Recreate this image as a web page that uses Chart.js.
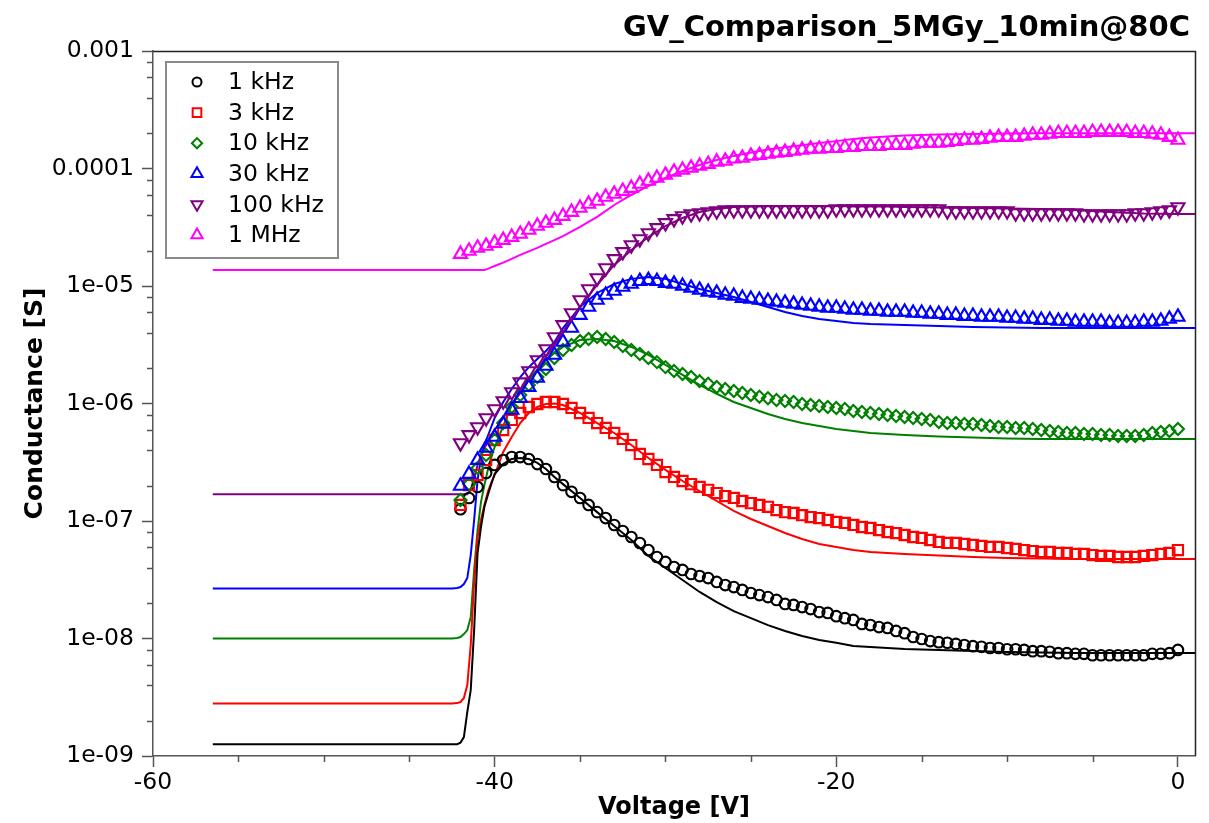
<!DOCTYPE html>
<html>
<head>
<meta charset="utf-8">
<script src="https://cdn.jsdelivr.net/npm/chart.js@4.4.1/dist/chart.umd.min.js"></script>
<style>
html, body { margin: 0; padding: 0; background: #ffffff; }
canvas { display: block; }
</style>
</head>
<body>
<canvas id="gv" width="1209" height="823"></canvas>
<script>
// ---- chart text ----
const chartTitle = 'GV_Comparison_5MGy_10min@80C';
const xAxisTitle = 'Voltage [V]';
const yAxisTitle = 'Conductance [S]';
const seriesNames = ['1 kHz', '3 kHz', '10 kHz', '30 kHz', '100 kHz', '1 MHz'];

// ---- tick labels ----
const xTicks = [-60, -40, -20, 0];
const yTicks = [1e-3, 1e-4, 1e-5, 1e-6, 1e-7, 1e-8, 1e-9];
const yTickLabels = ['0.001', '0.0001', '1e-05', '1e-06', '1e-07', '1e-08', '1e-09'];

// ---- measured gate-voltage sweep [V] ----
const measV = [-42, -41.5, -41, -40.5, -40, -39.5, -39, -38.5, -38, -37.5,
  -37, -36.5, -36, -35.5, -35, -34.5, -34, -33.5, -33, -32.5,
  -32, -31.5, -31, -30.5, -30, -29.5, -29, -28.5, -28, -27.5,
  -27, -26.5, -26, -25.5, -25, -24.5, -24, -23.5, -23, -22.5,
  -22, -21.5, -21, -20.5, -20, -19.5, -19, -18.5, -18, -17.5,
  -17, -16.5, -16, -15.5, -15, -14.5, -14, -13.5, -13, -12.5,
  -12, -11.5, -11, -10.5, -10, -9.5, -9, -8.5, -8, -7.5,
  -7, -6.5, -6, -5.5, -5, -4.5, -4, -3.5, -3, -2.5,
  -2, -1.5, -1, -0.5, 0];

// ---- measured conductance [S] ----
const meas1k = [1.26e-7, 1.57e-7, 1.95e-7, 2.56e-7, 3.0e-7, 3.3e-7, 3.5e-7, 3.5e-7, 3.37e-7, 3.05e-7,
  2.77e-7, 2.37e-7, 2.02e-7, 1.77e-7, 1.57e-7, 1.37e-7, 1.19e-7, 1.06e-7, 9.25e-8, 8.22e-8,
  7.31e-8, 6.5e-8, 5.66e-8, 4.94e-8, 4.48e-8, 4.06e-8, 3.83e-8, 3.54e-8, 3.4e-8, 3.27e-8,
  3.03e-8, 2.85e-8, 2.74e-8, 2.59e-8, 2.44e-8, 2.34e-8, 2.25e-8, 2.13e-8, 1.97e-8, 1.93e-8,
  1.85e-8, 1.78e-8, 1.68e-8, 1.65e-8, 1.55e-8, 1.49e-8, 1.44e-8, 1.33e-8, 1.30e-8, 1.25e-8,
  1.23e-8, 1.16e-8, 1.11e-8, 1.03e-8, 9.9e-9, 9.5e-9, 9.3e-9, 9.2e-9, 9.0e-9, 8.8e-9,
  8.6e-9, 8.5e-9, 8.3e-9, 8.3e-9, 8.1e-9, 8.1e-9, 8.0e-9, 7.8e-9, 7.8e-9, 7.7e-9,
  7.5e-9, 7.5e-9, 7.4e-9, 7.4e-9, 7.2e-9, 7.2e-9, 7.2e-9, 7.2e-9, 7.2e-9, 7.2e-9,
  7.2e-9, 7.4e-9, 7.4e-9, 7.5e-9, 8.0e-9];
const meas3k = [1.37e-7, 2.02e-7, 2.46e-7, 3.3e-7, 4.89e-7, 5.95e-7, 7.24e-7, 8.3e-7, 9.34e-7, 9.9e-7,
  1.03e-6, 1.03e-6, 9.9e-7, 9.16e-7, 8.3e-7, 7.53e-7, 6.82e-7, 6.19e-7, 5.61e-7, 4.99e-7,
  4.43e-7, 3.72e-7, 3.37e-7, 3.0e-7, 2.61e-7, 2.37e-7, 2.19e-7, 2.06e-7, 1.95e-7, 1.84e-7,
  1.73e-7, 1.63e-7, 1.57e-7, 1.48e-7, 1.42e-7, 1.37e-7, 1.32e-7, 1.24e-7, 1.19e-7, 1.17e-7,
  1.12e-7, 1.08e-7, 1.06e-7, 1.02e-7, 9.81e-8, 9.62e-8, 9.25e-8, 8.89e-8, 8.72e-8, 8.38e-8,
  8.06e-8, 7.9e-8, 7.6e-8, 7.31e-8, 7.17e-8, 6.89e-8, 6.63e-8, 6.5e-8, 6.5e-8, 6.37e-8,
  6.25e-8, 6.13e-8, 6.01e-8, 6.01e-8, 5.89e-8, 5.78e-8, 5.66e-8, 5.55e-8, 5.45e-8, 5.45e-8,
  5.34e-8, 5.34e-8, 5.24e-8, 5.24e-8, 5.13e-8, 5.04e-8, 5.04e-8, 4.94e-8, 4.94e-8, 4.94e-8,
  5.04e-8, 5.13e-8, 5.24e-8, 5.34e-8, 5.66e-8];
const meas10k = [1.51e-7, 2.06e-7, 2.82e-7, 3.64e-7, 4.89e-7, 6.82e-7, 9.34e-7, 1.18e-6, 1.44e-6, 1.68e-6,
  1.97e-6, 2.44e-6, 2.85e-6, 3.15e-6, 3.40e-6, 3.54e-6, 3.68e-6, 3.54e-6, 3.34e-6, 3.09e-6,
  2.85e-6, 2.64e-6, 2.44e-6, 2.25e-6, 2.04e-6, 1.89e-6, 1.78e-6, 1.68e-6, 1.55e-6, 1.47e-6,
  1.38e-6, 1.33e-6, 1.28e-6, 1.23e-6, 1.18e-6, 1.14e-6, 1.11e-6, 1.07e-6, 1.05e-6, 1.03e-6,
  9.9e-7, 9.71e-7, 9.52e-7, 9.34e-7, 9.16e-7, 8.98e-7, 8.64e-7, 8.47e-7, 8.3e-7, 8.14e-7,
  7.98e-7, 7.83e-7, 7.68e-7, 7.53e-7, 7.38e-7, 7.24e-7, 6.96e-7, 6.82e-7, 6.82e-7, 6.69e-7,
  6.69e-7, 6.56e-7, 6.43e-7, 6.31e-7, 6.31e-7, 6.19e-7, 6.19e-7, 6.07e-7, 5.95e-7, 5.84e-7,
  5.72e-7, 5.61e-7, 5.61e-7, 5.5e-7, 5.5e-7, 5.4e-7, 5.4e-7, 5.29e-7, 5.29e-7, 5.29e-7,
  5.4e-7, 5.61e-7, 5.72e-7, 5.84e-7, 6.07e-7];
const meas30k = [1.99e-7, 2.51e-7, 3.3e-7, 4.18e-7, 5.19e-7, 6.69e-7, 8.81e-7, 1.11e-6, 1.38e-6, 1.65e-6,
  2.09e-6, 2.59e-6, 3.34e-6, 4.39e-6, 5.66e-6, 6.63e-6, 7.6e-6, 8.38e-6, 9.07e-6, 9.81e-6,
  1.04e-5, 1.10e-5, 1.12e-5, 1.10e-5, 1.06e-5, 1.04e-5, 1.0e-5, 9.62e-6, 9.25e-6, 8.89e-6,
  8.72e-6, 8.38e-6, 8.22e-6, 7.9e-6, 7.75e-6, 7.6e-6, 7.45e-6, 7.31e-6, 7.17e-6, 7.03e-6,
  6.89e-6, 6.76e-6, 6.63e-6, 6.5e-6, 6.5e-6, 6.37e-6, 6.25e-6, 6.25e-6, 6.13e-6, 6.13e-6,
  6.01e-6, 6.01e-6, 6.01e-6, 5.89e-6, 5.89e-6, 5.78e-6, 5.78e-6, 5.66e-6, 5.66e-6, 5.55e-6,
  5.55e-6, 5.45e-6, 5.45e-6, 5.45e-6, 5.34e-6, 5.34e-6, 5.24e-6, 5.24e-6, 5.13e-6, 5.13e-6,
  5.04e-6, 5.04e-6, 4.94e-6, 4.94e-6, 4.94e-6, 4.94e-6, 4.84e-6, 4.84e-6, 4.84e-6, 4.84e-6,
  4.94e-6, 4.94e-6, 5.04e-6, 5.24e-6, 5.45e-6];
const meas100k = [4.61e-7, 5.4e-7, 6.31e-7, 7.53e-7, 8.98e-7, 1.05e-6, 1.25e-6, 1.52e-6, 1.89e-6, 2.34e-6,
  2.91e-6, 3.68e-6, 4.66e-6, 5.89e-6, 7.6e-6, 9.43e-6, 1.17e-5, 1.42e-5, 1.70e-5, 1.95e-5,
  2.23e-5, 2.51e-5, 2.82e-5, 3.12e-5, 3.44e-5, 3.72e-5, 3.94e-5, 4.1e-5, 4.18e-5, 4.26e-5,
  4.35e-5, 4.43e-5, 4.43e-5, 4.43e-5, 4.43e-5, 4.43e-5, 4.43e-5, 4.43e-5, 4.43e-5, 4.43e-5,
  4.43e-5, 4.43e-5, 4.43e-5, 4.43e-5, 4.52e-5, 4.52e-5, 4.52e-5, 4.52e-5, 4.52e-5, 4.52e-5,
  4.52e-5, 4.52e-5, 4.52e-5, 4.52e-5, 4.52e-5, 4.52e-5, 4.52e-5, 4.35e-5, 4.35e-5, 4.35e-5,
  4.35e-5, 4.35e-5, 4.35e-5, 4.35e-5, 4.35e-5, 4.18e-5, 4.18e-5, 4.18e-5, 4.18e-5, 4.18e-5,
  4.18e-5, 4.18e-5, 4.18e-5, 4.1e-5, 4.1e-5, 4.1e-5, 4.1e-5, 4.1e-5, 4.1e-5, 4.18e-5,
  4.18e-5, 4.26e-5, 4.35e-5, 4.43e-5, 4.7e-5];
const meas1M = [1.87e-5, 1.99e-5, 2.11e-5, 2.19e-5, 2.32e-5, 2.46e-5, 2.61e-5, 2.77e-5, 3.0e-5, 3.24e-5,
  3.44e-5, 3.64e-5, 3.94e-5, 4.26e-5, 4.61e-5, 4.99e-5, 5.29e-5, 5.72e-5, 6.07e-5, 6.43e-5,
  6.82e-5, 7.38e-5, 7.83e-5, 8.3e-5, 8.81e-5, 9.34e-5, 9.71e-5, 1.01e-4, 1.05e-4, 1.09e-4,
  1.14e-4, 1.16e-4, 1.21e-4, 1.23e-4, 1.28e-4, 1.30e-4, 1.33e-4, 1.36e-4, 1.38e-4, 1.41e-4,
  1.44e-4, 1.47e-4, 1.47e-4, 1.49e-4, 1.49e-4, 1.52e-4, 1.52e-4, 1.55e-4, 1.55e-4, 1.55e-4,
  1.58e-4, 1.58e-4, 1.58e-4, 1.62e-4, 1.65e-4, 1.65e-4, 1.65e-4, 1.68e-4, 1.71e-4, 1.75e-4,
  1.75e-4, 1.78e-4, 1.82e-4, 1.85e-4, 1.85e-4, 1.85e-4, 1.89e-4, 1.93e-4, 1.93e-4, 1.97e-4,
  2.0e-4, 2.0e-4, 2.0e-4, 2.0e-4, 2.04e-4, 2.04e-4, 2.04e-4, 2.04e-4, 2.04e-4, 2.0e-4,
  2.0e-4, 1.97e-4, 1.93e-4, 1.85e-4, 1.75e-4];

// ---- simulated curves: voltage grid [V] and conductance [S] ----
const simV = [-56.5, -42.5, -42.2, -42, -41.8, -41.6, -41.4, -41.2, -41, -40.8,
  -40.6, -40.4, -40.2, -40, -39.5, -39, -38.5, -38, -37.5, -37,
  -36.5, -36, -35, -34, -33, -32, -31, -30, -29, -28,
  -27, -26, -25, -24, -23, -22, -21, -20, -19, -18,
  -17, -16, -14, -12, -10, -8, -6, -4, -2, 0, 1];
const sim1k = [1.26e-9, 1.26e-9, 1.26e-9, 1.30e-9, 1.45e-9, 2.37e-9, 3.64e-9, 1.18e-8, 5.34e-8, 8.89e-8,
  1.32e-7, 1.66e-7, 2.06e-7, 2.51e-7, 3.05e-7, 3.37e-7, 3.44e-7, 3.37e-7, 3.12e-7, 2.77e-7,
  2.37e-7, 2.06e-7, 1.57e-7, 1.19e-7, 9.07e-8, 6.89e-8, 5.04e-8, 3.98e-8, 3.15e-8, 2.49e-8,
  2.04e-8, 1.71e-8, 1.49e-8, 1.30e-8, 1.16e-8, 1.05e-8, 9.71e-9, 9.2e-9, 8.64e-9, 8.47e-9,
  8.3e-9, 8.14e-9, 7.98e-9, 7.83e-9, 7.68e-9, 7.6e-9, 7.53e-9, 7.53e-9, 7.53e-9, 7.53e-9, 7.53e-9];
const sim3k = [2.8e-9, 2.8e-9, 2.82e-9, 2.88e-9, 3.12e-9, 4.02e-9, 8.8e-9, 3.0e-8, 7.31e-8, 1.02e-7,
  1.37e-7, 1.77e-7, 2.11e-7, 2.46e-7, 3.87e-7, 5.19e-7, 6.82e-7, 8.3e-7, 9.34e-7, 9.9e-7,
  1.0e-6, 9.71e-7, 8.3e-7, 6.82e-7, 5.61e-7, 4.43e-7, 3.44e-7, 2.72e-7, 2.19e-7, 1.80e-7,
  1.48e-7, 1.22e-7, 1.04e-7, 9.07e-8, 7.9e-8, 7.03e-8, 6.37e-8, 6.01e-8, 5.66e-8, 5.45e-8,
  5.34e-8, 5.24e-8, 5.09e-8, 4.94e-8, 4.84e-8, 4.8e-8, 4.75e-8, 4.75e-8, 4.75e-8, 4.75e-8, 4.75e-8];
const sim10k = [1e-8, 1e-8, 1.01e-8, 1.03e-8, 1.09e-8, 1.18e-8, 1.52e-8, 3.83e-8, 8.38e-8, 1.45e-7,
  2.02e-7, 2.72e-7, 3.5e-7, 4.26e-7, 6.43e-7, 9.71e-7, 1.30e-6, 1.62e-6, 1.93e-6, 2.34e-6,
  2.69e-6, 3.03e-6, 3.47e-6, 3.54e-6, 3.40e-6, 3.03e-6, 2.59e-6, 2.13e-6, 1.75e-6, 1.44e-6,
  1.21e-6, 1.03e-6, 9.16e-7, 8.14e-7, 7.38e-7, 6.82e-7, 6.43e-7, 6.07e-7, 5.84e-7, 5.61e-7,
  5.5e-7, 5.4e-7, 5.24e-7, 5.13e-7, 5.04e-7, 4.99e-7, 4.99e-7, 4.99e-7, 4.99e-7, 4.99e-7, 4.99e-7];
const sim30k = [2.67e-8, 2.67e-8, 2.69e-8, 2.74e-8, 2.91e-8, 3.27e-8, 5.13e-8, 1.02e-7, 2.23e-7, 3.44e-7,
  4.43e-7, 5.29e-7, 6.31e-7, 7.53e-7, 1.03e-6, 1.33e-6, 1.68e-6, 2.04e-6, 2.39e-6, 2.80e-6,
  3.34e-6, 4.39e-6, 6.63e-6, 8.72e-6, 1.04e-5, 1.15e-5, 1.19e-5, 1.15e-5, 1.04e-5, 9.43e-6,
  8.72e-6, 8.06e-6, 7.31e-6, 6.63e-6, 6.01e-6, 5.55e-6, 5.24e-6, 5.04e-6, 4.84e-6, 4.75e-6,
  4.7e-6, 4.66e-6, 4.57e-6, 4.48e-6, 4.43e-6, 4.39e-6, 4.39e-6, 4.39e-6, 4.39e-6, 4.39e-6, 4.39e-6];
const sim100k = [1.69e-7, 1.69e-7, 1.69e-7, 1.69e-7, 1.69e-7, 1.69e-7, 1.84e-7, 2.32e-7, 3.0e-7, 3.64e-7,
  4.18e-7, 4.70e-7, 5.29e-7, 5.95e-7, 7.53e-7, 9.71e-7, 1.23e-6, 1.58e-6, 1.93e-6, 2.49e-6,
  3.15e-6, 3.98e-6, 6.63e-6, 1.02e-5, 1.51e-5, 2.02e-5, 2.61e-5, 3.24e-5, 3.79e-5, 4.26e-5,
  4.52e-5, 4.70e-5, 4.75e-5, 4.79e-5, 4.79e-5, 4.79e-5, 4.79e-5, 4.79e-5, 4.75e-5, 4.75e-5,
  4.75e-5, 4.70e-5, 4.66e-5, 4.61e-5, 4.57e-5, 4.52e-5, 4.43e-5, 4.26e-5, 4.14e-5, 4.10e-5, 4.10e-5];
const sim1M = [1.37e-5, 1.37e-5, 1.37e-5, 1.37e-5, 1.37e-5, 1.37e-5, 1.37e-5, 1.37e-5, 1.37e-5, 1.37e-5,
  1.37e-5, 1.40e-5, 1.44e-5, 1.48e-5, 1.58e-5, 1.70e-5, 1.84e-5, 1.97e-5, 2.11e-5, 2.28e-5,
  2.46e-5, 2.66e-5, 3.18e-5, 3.87e-5, 4.89e-5, 5.95e-5, 7.1e-5, 8.3e-5, 9.52e-5, 1.07e-4,
  1.18e-4, 1.28e-4, 1.37e-4, 1.45e-4, 1.52e-4, 1.58e-4, 1.65e-4, 1.71e-4, 1.78e-4, 1.84e-4,
  1.87e-4, 1.91e-4, 1.95e-4, 1.97e-4, 1.99e-4, 2.0e-4, 2.0e-4, 2.0e-4, 2.0e-4, 2.0e-4, 2.0e-4];

// ---- series styling ----
const seriesColors = ['#000000', '#ff0000', '#008000', '#0000ff', '#800080', '#ff00ff'];
const markerStyles = ['circle', 'rect', 'rectRot', 'triangle', 'triangle', 'triangle'];
const markerRotation = [0, 0, 0, 0, 180, 0];
const markerRadius = [5.3, 7.2, 6.0, 7.6, 7.6, 7.6];

const measSeries = [meas1k, meas3k, meas10k, meas30k, meas100k, meas1M];
const simSeries = [sim1k, sim3k, sim10k, sim30k, sim100k, sim1M];

const FONT = '"DejaVu Sans", "Liberation Sans", sans-serif';
const AXIS_COLOR = '#555555';

const datasets = [];
simSeries.forEach((vals, i) => {
  datasets.push({
    label: seriesNames[i] + ' sim',
    data: simV.map((v, k) => ({ x: v, y: vals[k] })),
    showLine: true,
    borderColor: seriesColors[i],
    borderWidth: 2,
    pointRadius: 0,
    fill: false,
    tension: 0,
    order: 20 + i
  });
});
measSeries.forEach((vals, i) => {
  datasets.push({
    label: seriesNames[i],
    data: measV.map((v, k) => ({ x: v, y: vals[k] })),
    showLine: false,
    borderColor: seriesColors[i],
    backgroundColor: 'rgba(0,0,0,0)',
    pointStyle: markerStyles[i],
    pointRotation: markerRotation[i],
    pointRadius: markerRadius[i],
    pointBorderWidth: 2.1,
    order: 10 - i
  });
});

// title, frame, minor ticks and the legend panel
const decorPlugin = {
  id: 'decor',
  afterDraw(chart) {
    const { ctx, chartArea: a, scales: { x, y } } = chart;
    ctx.save();

    ctx.fillStyle = '#000000';
    ctx.font = 'bold 29px ' + FONT;
    ctx.textAlign = 'right';
    ctx.textBaseline = 'alphabetic';
    ctx.fillText(chartTitle, 1190, 36);

    ctx.strokeStyle = AXIS_COLOR;
    ctx.lineWidth = 1.5;
    ctx.beginPath();
    for (let e = -9; e < -3; e++) {
      for (const m of [2, 4, 6, 8]) {
        const py = Math.round(y.getPixelForValue(m * Math.pow(10, e))) + 0.5;
        ctx.moveTo(a.left - 6, py);
        ctx.lineTo(a.left, py);
      }
    }
    for (let v = -55; v < 0; v += 5) {
      if (v % 20 === 0) continue;
      const px = Math.round(x.getPixelForValue(v)) + 0.5;
      ctx.moveTo(px, a.bottom);
      ctx.lineTo(px, a.bottom + 6);
    }
    ctx.stroke();

    // box top and right edges
    ctx.strokeStyle = '#222222';
    ctx.lineWidth = 1.5;
    ctx.beginPath();
    ctx.moveTo(a.left, a.top + 0.5);
    ctx.lineTo(a.right + 0.5, a.top + 0.5);
    ctx.lineTo(a.right + 0.5, a.bottom);
    ctx.stroke();

    // legend
    const lx = 166, ly = 62, lw = 172, lh = 196;
    ctx.fillStyle = '#ffffff';
    ctx.fillRect(lx, ly, lw, lh);
    ctx.strokeStyle = '#8a8a8a';
    ctx.lineWidth = 2;
    ctx.strokeRect(lx, ly, lw, lh);
    ctx.font = '23.5px ' + FONT;
    ctx.textBaseline = 'middle';
    ctx.textAlign = 'left';
    seriesNames.forEach((name, i) => {
      const cy = ly + 20 + i * 30.6;
      ctx.strokeStyle = seriesColors[i];
      ctx.fillStyle = 'rgba(0,0,0,0)';
      ctx.lineWidth = 2;
      Chart.helpers.drawPoint(ctx, {
        pointStyle: markerStyles[i],
        rotation: markerRotation[i],
        radius: markerRadius[i] * 0.85,
        borderWidth: 2
      }, 197, cy);
      ctx.fillStyle = '#000000';
      ctx.fillText(name, 228, cy + 1);
    });
    ctx.restore();
  }
};

new Chart(document.getElementById('gv'), {
  type: 'scatter',
  data: { datasets },
  plugins: [decorPlugin],
  options: {
    responsive: false,
    devicePixelRatio: 1,
    animation: false,
    layout: { padding: { left: 0, right: 14, top: 51, bottom: 0 } },
    plugins: {
      legend: { display: false },
      tooltip: { enabled: false },
      title: { display: false }
    },
    scales: {
      x: {
        type: 'linear',
        min: -60,
        max: 1,
        afterBuildTicks: (s) => { s.ticks = xTicks.map(v => ({ value: v })); },
        afterFit: (s) => { s.height = 67; },
        ticks: {
          color: '#000000',
          font: { family: FONT, size: 23.5 },
          padding: 2,
          maxRotation: 0,
          autoSkip: false,
          callback: (v) => String(v)
        },
        grid: { drawOnChartArea: false, drawTicks: true, tickLength: 11, tickColor: AXIS_COLOR, tickWidth: 1.5 },
        border: { display: true, color: AXIS_COLOR, width: 1.5 },
        title: {
          display: true,
          text: xAxisTitle,
          color: '#000000',
          font: { family: FONT, size: 24, weight: 'bold' },
          padding: { top: 0, bottom: 1 }
        }
      },
      y: {
        type: 'logarithmic',
        min: 1e-9,
        max: 1e-3,
        afterBuildTicks: (s) => { s.ticks = yTicks.map(v => ({ value: v })); },
        afterFit: (s) => { s.width = 153; },
        ticks: {
          color: '#000000',
          font: { family: FONT, size: 23.5 },
          padding: 8,
          autoSkip: false,
          callback: (v) => {
            const i = yTicks.findIndex(t => Math.abs(Math.log10(t) - Math.log10(v)) < 1e-6);
            return i >= 0 ? yTickLabels[i] : '';
          }
        },
        grid: { drawOnChartArea: false, drawTicks: true, tickLength: 11, tickColor: AXIS_COLOR, tickWidth: 1.5 },
        border: { display: true, color: AXIS_COLOR, width: 1.5 },
        title: {
          display: true,
          text: yAxisTitle,
          color: '#000000',
          font: { family: FONT, size: 25, weight: 'bold' },
          padding: { top: 20, bottom: 0 }
        }
      }
    }
  }
});
</script>
</body>
</html>
